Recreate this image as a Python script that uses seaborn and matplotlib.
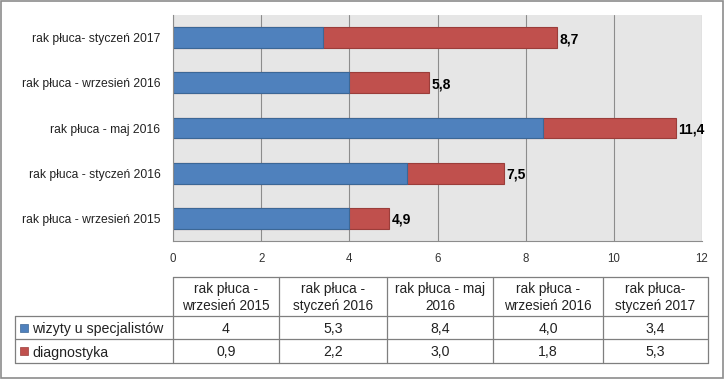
import pandas as pd
import seaborn as sns
import matplotlib.pyplot as plt
from matplotlib.lines import Line2D
from matplotlib.patches import Rectangle

# Dane (kolejność jak w tabeli)
okresy = ['rak płuca - wrzesień 2015', 'rak płuca - styczeń 2016', 'rak płuca - maj 2016',
          'rak płuca - wrzesień 2016', 'rak płuca- styczeń 2017']
naglowki = ['rak płuca -\nwrzesień 2015', 'rak płuca -\nstyczeń 2016', 'rak płuca - maj\n2016',
            'rak płuca -\nwrzesień 2016', 'rak płuca-\nstyczeń 2017']
wizyty = [4, 5.3, 8.4, 4.0, 3.4]
diagnostyka = [0.9, 2.2, 3.0, 1.8, 5.3]
serie = ['wizyty u specjalistów', 'diagnostyka']
kolory = ['#4f81bd', '#c0504d']
krawedzie = ['#3c6796', '#9b3d3a']

W, H = 724, 379


def fx(x):
    return x / W


def fy(y):
    return 1 - y / H


sns.set_style('white')
plt.rcParams['font.family'] = ['Liberation Sans', 'DejaVu Sans']

df = pd.DataFrame({'okres': okresy, 'wizyty': wizyty, 'diagnostyka': diagnostyka})
df['suma'] = df['wizyty'] + df['diagnostyka']
kolejnosc = okresy[::-1]

fig = plt.figure(figsize=(7.24, 3.79), dpi=100)
ax = fig.add_axes([fx(173), fy(241), fx(702) - fx(173), (241 - 15) / H])
ax.set_facecolor('#e6e6e6')

# słupki skumulowane: najpierw suma (czerwony), potem wizyty (niebieski)
sns.barplot(data=df, y='okres', x='suma', order=kolejnosc, orient='h', color=kolory[1],
            edgecolor=krawedzie[1], linewidth=0.8, width=0.46, saturation=1, ax=ax)
sns.barplot(data=df, y='okres', x='wizyty', order=kolejnosc, orient='h', color=kolory[0],
            edgecolor=krawedzie[0], linewidth=0.8, width=0.46, saturation=1, ax=ax)

ax.set_xlim(0, 12)
ax.set_xticks(range(0, 13, 2))
ax.set_xlabel('')
ax.set_ylabel('')
ax.xaxis.grid(True, color='#8c8c8c', linewidth=0.8)
ax.set_axisbelow(True)
for s in ['top', 'right']:
    ax.spines[s].set_visible(False)
ax.spines['left'].set_color('#8c8c8c')
ax.spines['bottom'].set_color('#8c8c8c')
ax.tick_params(axis='x', labelsize=8.3, colors='#333333', length=0, pad=9)
ax.tick_params(axis='y', labelsize=8.7, colors='#222222', length=0, pad=9)

for i, okres in enumerate(kolejnosc):
    suma = df.loc[df['okres'] == okres, 'suma'].iloc[0]
    ax.text(suma + 0.06, i, f'{suma:.1f}'.replace('.', ','), va='center_baseline', ha='left',
            fontsize=10, fontweight='bold', color='black')

# tabela danych
kol_x = [15, 173, 279, 387, 493, 603, 708]
wiersz_y = [277, 316, 339, 363]
lc = '#7f7f7f'
linie = []
# poziome
linie.append(((kol_x[1], kol_x[-1]), (wiersz_y[0], wiersz_y[0])))
for y in wiersz_y[1:]:
    linie.append(((kol_x[0], kol_x[-1]), (y, y)))
# pionowe
linie.append(((kol_x[0], kol_x[0]), (wiersz_y[1], wiersz_y[-1])))
for x in kol_x[1:]:
    linie.append(((x, x), (wiersz_y[0], wiersz_y[-1])))
for (x0, x1), (y0, y1) in linie:
    fig.add_artist(Line2D([fx(x0), fx(x1)], [fy(y0), fy(y1)], color=lc, linewidth=0.9))

for j, nag in enumerate(naglowki):
    xc = (kol_x[j + 1] + kol_x[j + 2]) / 2
    fig.text(fx(xc), fy((wiersz_y[0] + wiersz_y[1]) / 2 + 1), nag, ha='center', va='center',
             fontsize=9.8, color='#222222', linespacing=1.35)

for r, (nazwa, wartosci) in enumerate(zip(serie, [wizyty, diagnostyka])):
    yc = (wiersz_y[r + 1] + wiersz_y[r + 2]) / 2
    fig.add_artist(Rectangle((fx(20), fy(yc + 4)), fx(8), 8 / H, facecolor=kolory[r],
                             edgecolor=krawedzie[r], linewidth=0.5))
    fig.text(fx(32), fy(yc), nazwa, ha='left', va='center_baseline', fontsize=10.2,
             color='#222222')
    for j, v in enumerate(wartosci):
        xc = (kol_x[j + 1] + kol_x[j + 2]) / 2
        fig.text(fx(xc), fy(yc), f'{v}'.replace('.', ','), ha='center', va='center_baseline',
                 fontsize=10.2, color='#222222')

# ramka wykresu
fig.add_artist(Rectangle((0.001, 0.002), 0.997, 0.995, fill=False, edgecolor='#8c8c8c',
                         linewidth=1.2))

plt.savefig('out.png', dpi=100)
plt.close()
